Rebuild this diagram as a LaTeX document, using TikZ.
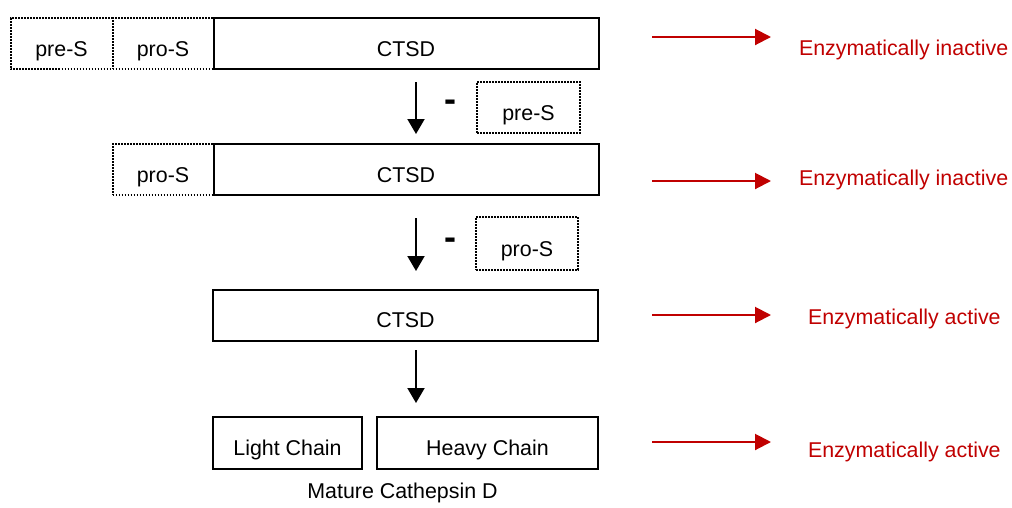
\documentclass[tikz,border=0pt]{standalone}
\usepackage{fontspec}
\setmainfont{Liberation Sans}
\usetikzlibrary{arrows.meta}
\definecolor{darkred}{RGB}{192,0,0}
\begin{document}
\begin{tikzpicture}[x=1pt,y=-1pt,
  every node/.style={font=\fontsize{21.4}{25}\selectfont, inner sep=0pt, outer sep=0pt},
  solidbox/.style={draw, line width=2pt, rectangle, text height=25pt, text depth=0pt},
  dotline/.style={line width=2pt, dash pattern=on 1.8pt off 1.2pt},
  dotbox/.style={draw, dotline, rectangle, text height=25pt, text depth=0pt},
  plainbox/.style={rectangle, text height=25pt, text depth=0pt},
  minus/.style={font=\fontsize{36}{36}\selectfont\bfseries, anchor=base},
  downarr/.style={line width=2pt, -{Triangle[length=15pt,width=17pt]}},
  redarr/.style={draw=darkred, line width=2pt, -{Triangle[length=16pt,width=16pt]}},
  redtext/.style={text=darkred, anchor=base west},
]
\useasboundingbox (0,0) rectangle (1012,507);

% row 1
\node[plainbox, minimum width=102pt, minimum height=51pt] (preS1) at (61.5,43.5) {pre-S};
\node[dotbox, minimum width=101pt, minimum height=51pt] (proS1) at (163,43.5) {pro-S};
\draw[dotline] (proS1.north west) -- (preS1.north west) -- (preS1.south west) -- (proS1.south west);
\node[solidbox, minimum width=385pt, minimum height=51pt] (ctsd1) at (406,43.5) {CTSD};

% step 1
\coordinate (a1s) at (416,82);
\coordinate (a1e) at (416,134);
\draw[downarr] (a1s) -- (a1e);
\node[minus] (m1) at (450,111) {-};
\node[dotbox, minimum width=103pt, minimum height=51pt] (preSoff) at (528.5,107.5) {pre-S};

% row 2
\node[dotbox, minimum width=101pt, minimum height=51pt] (proS2) at (163,169.5) {pro-S};
\node[solidbox, minimum width=385pt, minimum height=51pt] (ctsd2) at (406,169.5) {CTSD};

% step 2
\coordinate (a2s) at (416,218);
\coordinate (a2e) at (416,271);
\draw[downarr] (a2s) -- (a2e);
\node[minus] (m2) at (450,249) {-};
\node[dotbox, minimum width=102pt, minimum height=53pt] (proSoff) at (527,243.5) {pro-S};

% row 3
\node[solidbox, minimum width=385pt, minimum height=51pt] (ctsd3) at (405.5,315) {CTSD};

% step 3
\coordinate (a3s) at (416,350);
\coordinate (a3e) at (416,403);
\draw[downarr] (a3s) -- (a3e);

% row 4
\node[solidbox, minimum width=149pt, minimum height=52pt] (light) at (287.5,443) {Light Chain};
\node[solidbox, minimum width=221pt, minimum height=52pt] (heavy) at (487.5,443) {Heavy Chain};
\node[anchor=base] (mature) at (402.5,498) {Mature Cathepsin D};

% red arrows and labels
\coordinate (r1s) at (652,37);  \coordinate (r1e) at (771,37);
\coordinate (r2s) at (652,181); \coordinate (r2e) at (771,181);
\coordinate (r3s) at (652,315); \coordinate (r3e) at (771,315);
\coordinate (r4s) at (652,442); \coordinate (r4e) at (771,442);
\draw[redarr] (r1s) -- (r1e);
\draw[redarr] (r2s) -- (r2e);
\draw[redarr] (r3s) -- (r3e);
\draw[redarr] (r4s) -- (r4e);
\node[redtext] (t1) at (799,55) {Enzymatically inactive};
\node[redtext] (t2) at (799,185) {Enzymatically inactive};
\node[redtext] (t3) at (808,324) {Enzymatically active};
\node[redtext] (t4) at (808,457) {Enzymatically active};
\end{tikzpicture}
\end{document}
